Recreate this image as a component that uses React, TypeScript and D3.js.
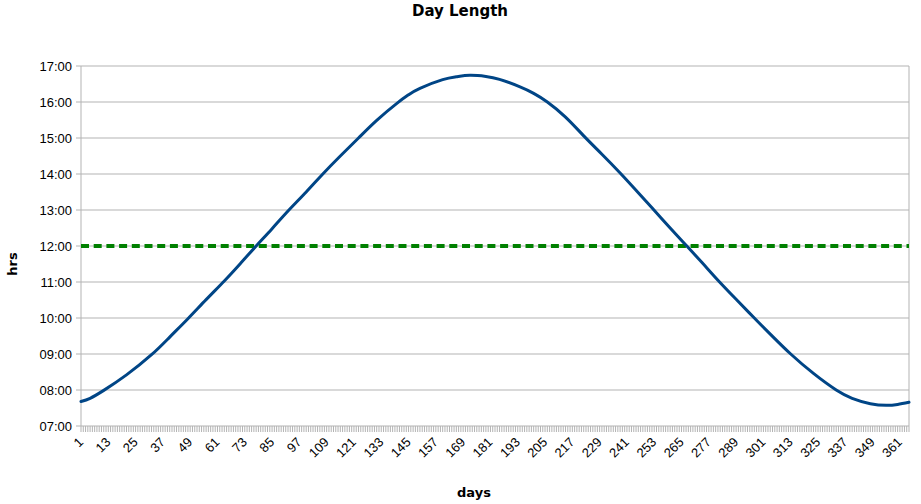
import React from "react";
import * as d3 from "d3";

const sampleDays = [1, 5, 11, 21, 32, 40, 48, 56, 64, 71, 78, 85, 92, 100, 107, 115, 123, 131, 140, 145, 150, 160, 166, 172, 179, 185, 194, 200, 206, 214, 222, 230, 238, 245, 252, 260, 267, 274, 281, 289, 297, 305, 313, 323, 333, 340, 348, 355, 360, 365];
const dayLength = [7.68, 7.77, 7.99, 8.42, 8.98, 9.47, 9.98, 10.51, 11.03, 11.51, 12.0, 12.48, 12.97, 13.5, 13.98, 14.5, 15.0, 15.49, 15.97, 16.2, 16.38, 16.62, 16.7, 16.74, 16.71, 16.63, 16.42, 16.24, 16.0, 15.58, 15.06, 14.55, 14.03, 13.55, 13.06, 12.5, 12.02, 11.54, 11.05, 10.52, 10.0, 9.49, 9.0, 8.46, 8.0, 7.77, 7.62, 7.575, 7.6, 7.66];
const thresholdHours = 12;
const xLabels = [1, 13, 25, 37, 49, 61, 73, 85, 97, 109, 121, 133, 145, 157, 169, 181, 193, 205, 217, 229, 241, 253, 265, 277, 289, 301, 313, 325, 337, 349, 361];
const yTicks = [7, 8, 9, 10, 11, 12, 13, 14, 15, 16, 17];
const yTickLabels = ["07:00", "08:00", "09:00", "10:00", "11:00", "12:00", "13:00", "14:00", "15:00", "16:00", "17:00"];
const dayCount = 365;

export default function App() {
  const W = 921, H = 504;
  const left = 81, right = 909, top = 66, bottom = 426;
  const x = d3.scaleLinear().domain([1, dayCount]).range([left, right]);
  const y = d3.scaleLinear().domain([7, 17]).range([bottom, top]);
  const pts = sampleDays.map((d, i) => [d, dayLength[i]] as [number, number]);
  const line = d3.line<[number, number]>().x(d => x(d[0])).y(d => y(d[1])).curve(d3.curveNatural);
  const allDays = d3.range(1, dayCount + 1);
  const grid = "#b3b3b3";
  const sans = "'Liberation Sans', Arial, sans-serif";
  const bold = "'DejaVu Sans', sans-serif";
  return (
    <svg width={W} height={H} style={{ position: "absolute", left: 0, top: 0, background: "#fff" }}>
      <rect x={0} y={0} width={W} height={H} fill="#fff" />
      <text x={460} y={16} textAnchor="middle" fontFamily={bold} fontWeight="bold" fontSize={15}>Day Length</text>
      {yTicks.map((t, i) => (
        <g key={t}>
          <line x1={left} x2={right} y1={y(t)} y2={y(t)} stroke={grid} strokeWidth={1} />
          <line x1={left - 5} x2={left} y1={y(t)} y2={y(t)} stroke={grid} strokeWidth={1} />
          <text x={72} y={y(t) + 4.5} textAnchor="end" fontFamily={sans} fontSize={13} fill="#000">{yTickLabels[i]}</text>
        </g>
      ))}
      <line x1={left} x2={left} y1={top} y2={bottom} stroke={grid} strokeWidth={1} />
      <line x1={right} x2={right} y1={top} y2={bottom} stroke={grid} strokeWidth={1} />
      {allDays.map(d => (
        <line key={d} x1={x(d)} x2={x(d)} y1={bottom} y2={bottom + 6} stroke={grid} strokeWidth={1} />
      ))}
      {xLabels.map(d => (
        <text key={d} transform={`translate(${x(d) + 3},${bottom + 17}) rotate(-45)`} textAnchor="end" fontFamily={sans} fontSize={13} fill="#000">{d}</text>
      ))}
      <line x1={left} x2={right} y1={y(thresholdHours)} y2={y(thresholdHours)} stroke="#008000" strokeWidth={4} strokeDasharray="8,4.7" />
      <path d={line(pts) || ""} fill="none" stroke="#004586" strokeWidth={3} strokeLinejoin="round" strokeLinecap="round" />
      <text transform={`translate(16.5,264) rotate(-90)`} textAnchor="middle" fontFamily={bold} fontWeight="bold" fontSize={13}>hrs</text>
      <text x={474} y={497} textAnchor="middle" fontFamily={bold} fontWeight="bold" fontSize={13}>days</text>
    </svg>
  );
}
